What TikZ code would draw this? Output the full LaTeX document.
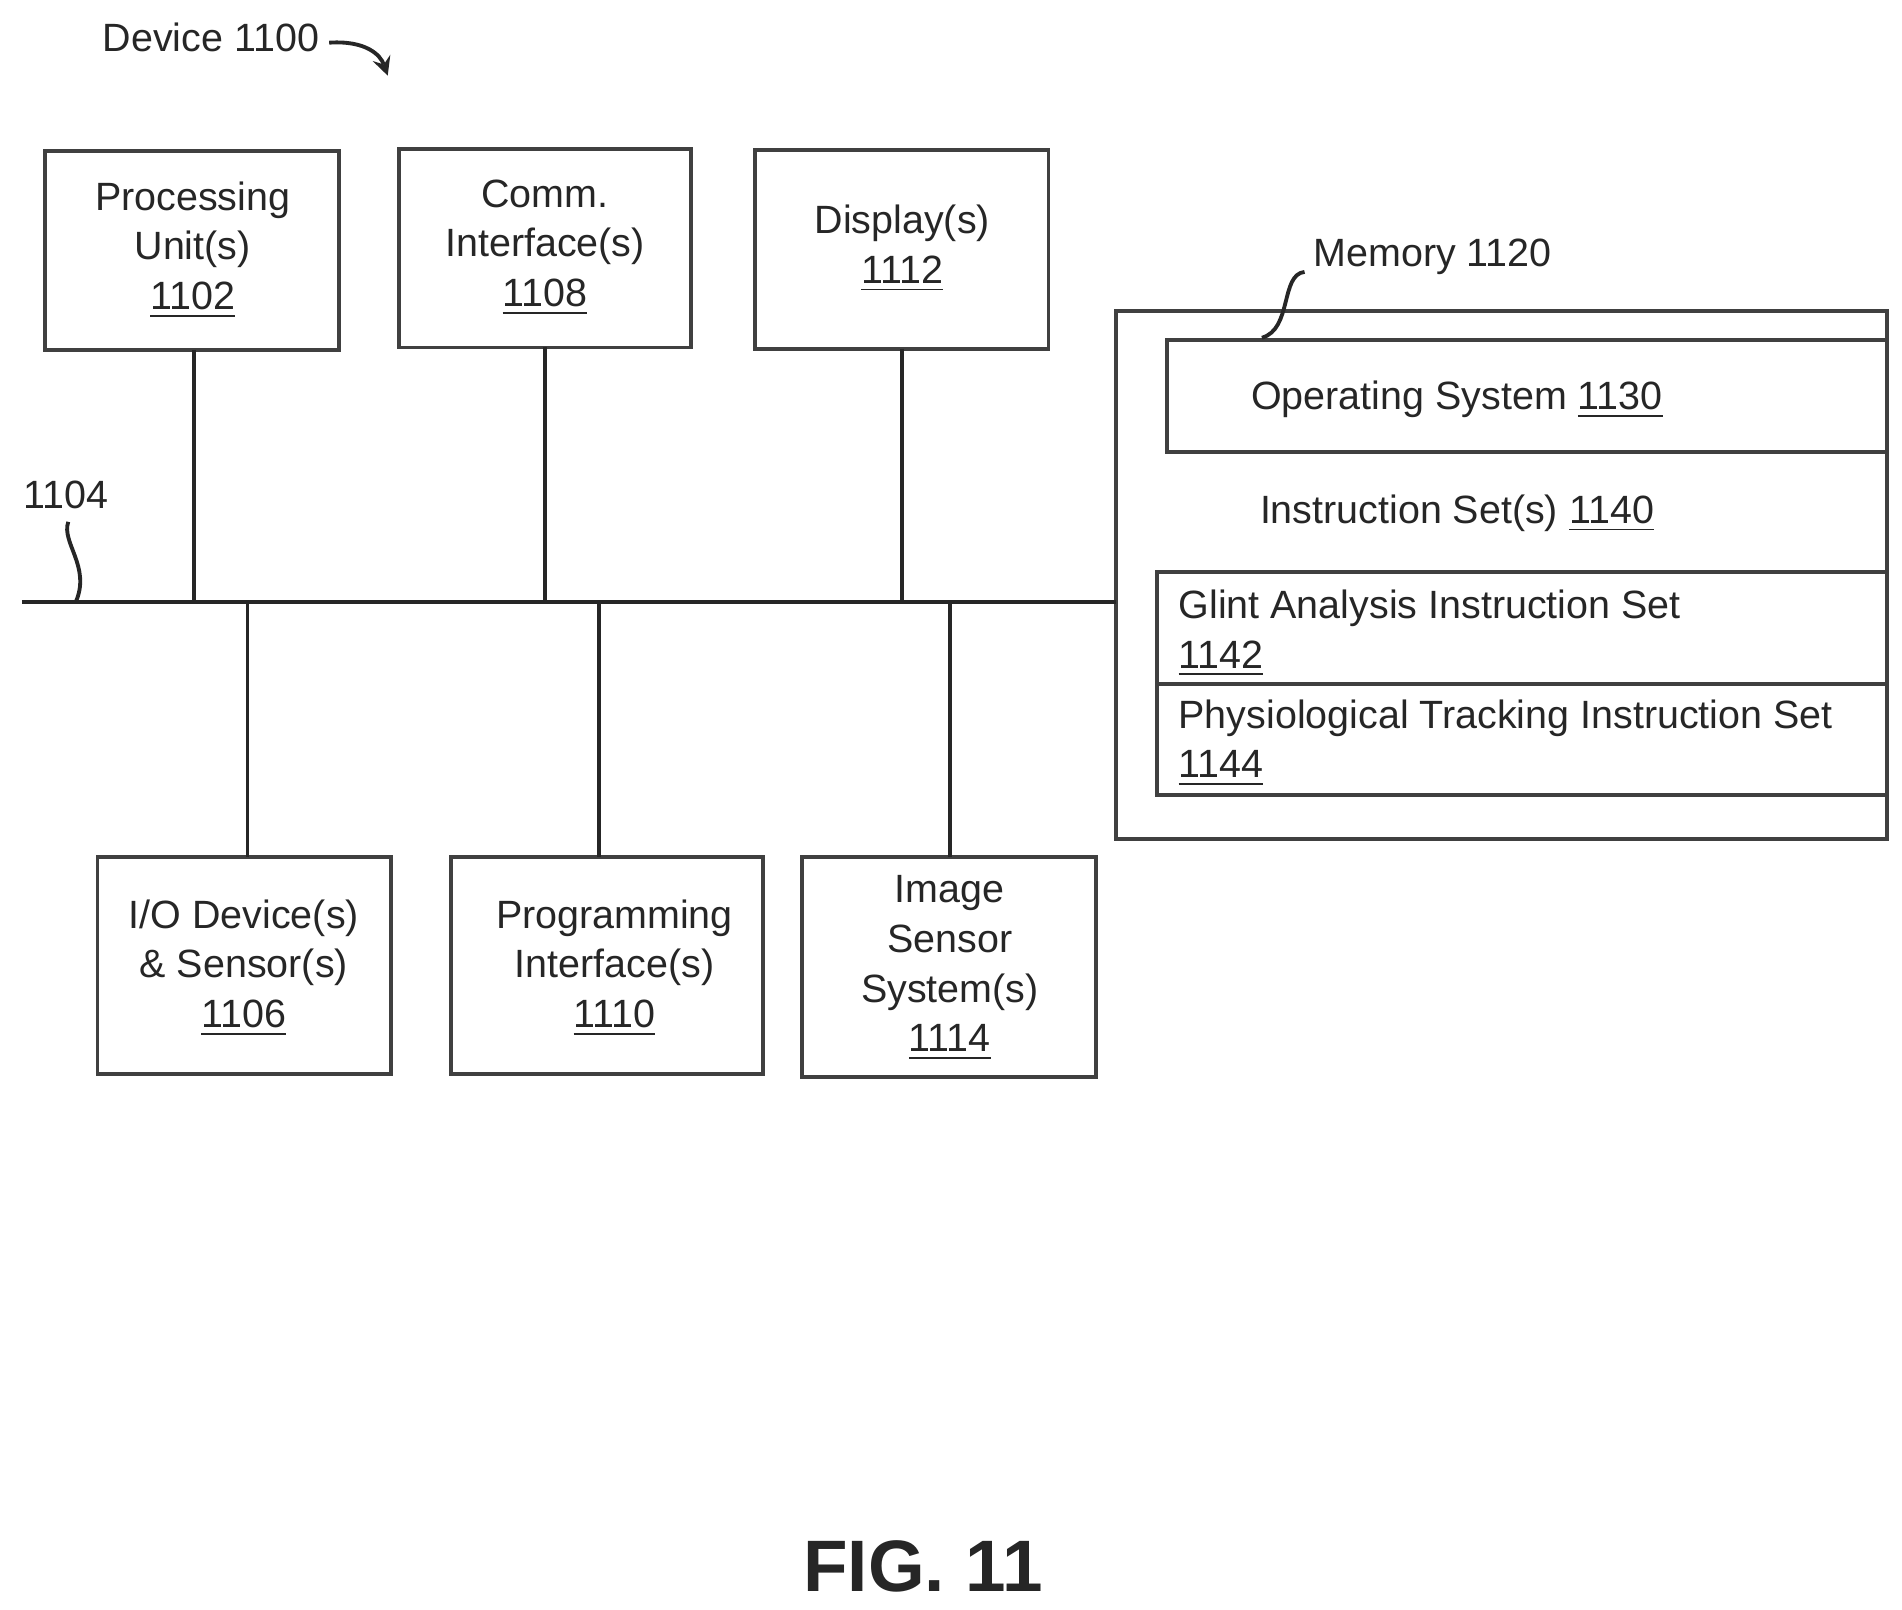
\documentclass[tikz,border=0pt]{standalone}
\usepackage{fontspec}
\setmainfont{Liberation Sans}
\begin{document}
\begin{tikzpicture}[x=0.01cm,y=-0.01cm,
 box/.style={draw=black!75,line width=0.9pt},
 ln/.style={draw=black!85,line width=0.9pt},
 txt/.style={font=\fontsize{9.2}{11.6}\selectfont,align=center,text=black!85,inner sep=0pt}]
\useasboundingbox (0,0) rectangle (1560,1320);
% top boxes
\draw[box] (37,124) rectangle (278,287); \node[txt] (pu) at (158,205) {Processing\\Unit(s)\\\underline{1102}};
\draw[box] (327,122) rectangle (567,285); \node[txt] (ci) at (447,203) {Comm.\\Interface(s)\\\underline{1108}};
\draw[box] (619,123) rectangle (860,286); \node[txt] (di) at (740,204) {Display(s)\\\underline{1112}};
% bottom boxes
\draw[box] (80,703) rectangle (321,881); \node[txt] (io) at (200,794) {I/O Device(s)\\\& Sensor(s)\\\underline{1106}};
\draw[box] (370,703) rectangle (626,881); \node[txt] (pi) at (504,794) {Programming\\Interface(s)\\\underline{1110}};
\draw[box] (658,703) rectangle (899,883); \node[txt] (is) at (779,794) {Image\\Sensor\\System(s)\\\underline{1114}};
% memory
\draw[box] (915,255) rectangle (1548,688);
\draw[box] (957,279) rectangle (1548,371);
\node[txt] (os) at (1195,328) {Operating System \underline{1130}};
\node[txt] (ins) at (1195,421) {Instruction Set(s) \underline{1140}};
\draw[box] (949,469) rectangle (1548,561);
\node[txt,align=left,anchor=north west] (gl) at (966,483) {Glint Analysis Instruction Set\\\underline{1142}};
\draw[box] (949,561) rectangle (1548,652);
\node[txt,align=left,anchor=north west] (ph) at (966,573) {Physiological Tracking Instruction Set\\\underline{1144}};
% bus
\coordinate (b0) at (18,494); \coordinate (b1) at (915,494);
\draw[ln] (b0) -- (b1);
\draw[ln] (159,287) -- (159,494);
\draw[ln] (447,285) -- (447,494);
\draw[ln] (740,286) -- (740,494);
\draw[ln] (203,494) -- (203,703);
\draw[ln] (491,494) -- (491,703);
\draw[ln] (779,494) -- (779,703);
% labels
\node[txt] (dev) at (173,31) {Device 1100};
\draw[ln,-stealth] (270,35) .. controls (300,33) and (312,45) .. (318,62);
\node[txt] (l1104) at (54,406) {1104};
\draw[ln] (56,428) .. controls (50,445) and (75,465) .. (62,494);
\node[txt] (mem) at (1175,211) {Memory 1120};
\draw[ln] (1070,223) .. controls (1050,225) and (1060,270) .. (1035,277);
\node[font=\fontsize{17}{20}\selectfont\bfseries,text=black!85] (fig) at (757,1285) {FIG. 11};
\end{tikzpicture}
\end{document}
